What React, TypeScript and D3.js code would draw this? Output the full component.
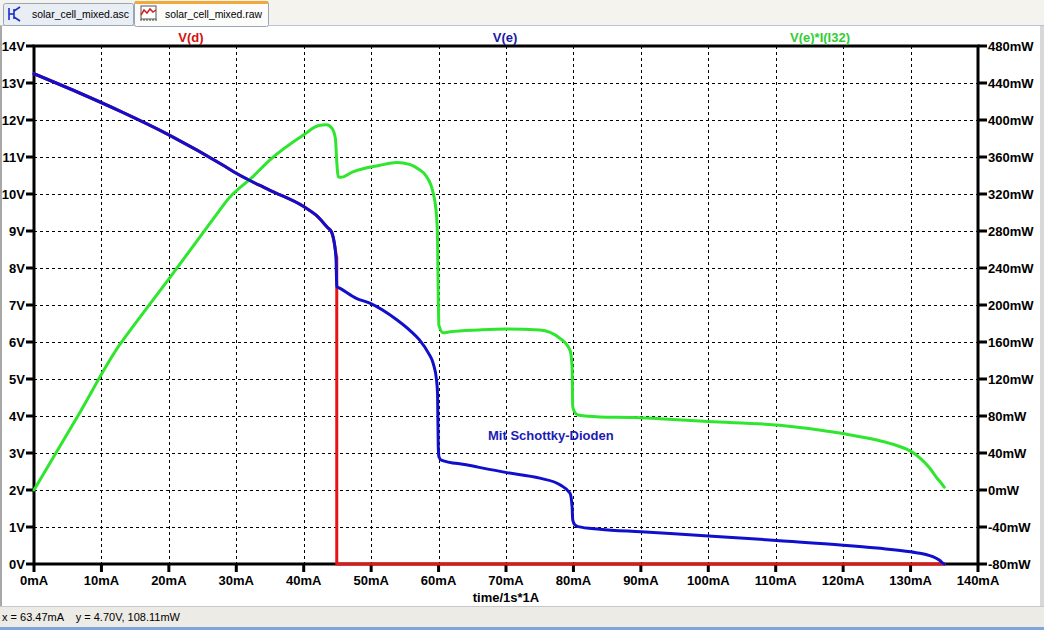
import React from "react";
import * as d3 from "d3";

// ---- data (x in mA) ----
const xTicks = [0, 10, 20, 30, 40, 50, 60, 70, 80, 90, 100, 110, 120, 130, 140];
const vTicks = [0, 1, 2, 3, 4, 5, 6, 7, 8, 9, 10, 11, 12, 13, 14];
const pTicks = [-80, -40, 0, 40, 80, 120, 160, 200, 240, 280, 320, 360, 400, 440, 480];

// V(e) [mA, V]
const vE: [number, number][] = [
  [0, 13.25], [6.5, 12.75], [13, 12.22], [20, 11.6], [28.3, 10.75], [30, 10.56], [35, 10.1], [40, 9.66],
  [42, 9.4], [43.5, 9.1], [44.1, 8.98], [44.6, 8.6], [44.8, 8.2], [44.9, 7.5], [45.4, 7.45],
  [47.8, 7.18], [49.8, 7.05], [53.8, 6.6], [55.7, 6.32], [57.2, 6.05], [58.5, 5.7], [59.2, 5.42],
  [59.7, 4.97], [59.85, 4.6], [59.95, 3.2], [60.05, 2.9], [60.4, 2.81], [64.1, 2.68], [70.1, 2.47],
  [75, 2.32], [78, 2.14], [79.5, 1.91], [79.8, 1.55], [79.9, 1.19], [80.2, 1.06], [80.7, 1.01],
  [83.9, 0.94], [90, 0.87], [100, 0.76], [110.6, 0.63], [120, 0.51], [125, 0.43], [130, 0.33],
  [133.3, 0.2], [134.3, 0.1], [134.8, 0.02], [135, 0],
];

// V(d) [mA, V]
const vD: [number, number][] = [
  [0, 13.25], [6.5, 12.75], [13, 12.22], [20, 11.6], [28.3, 10.75], [30, 10.56], [35, 10.1], [40, 9.66],
  [42, 9.4], [43.5, 9.1], [44.1, 8.98], [44.6, 8.6], [44.85, 8.3],
];
const vDdrop: [number, number][] = [
  [44.9, 8.3], [44.9, 0], [135, 0],
];

// V(e)*I(I32) [mA, mW]
const pE: [number, number][] = [
  [0, 0], [6.5, 80], [12.9, 159], [13.1, 161], [20.7, 235], [28.2, 309], [28.4, 311], [32.5, 339],
  [35, 357], [40, 384], [42.2, 394], [43.4, 395],
  [44.2, 391], [44.7, 380], [44.9, 355], [45.1, 339], [45.5, 338], [47.3, 344], [51.3, 351],
  [53.8, 354], [55.7, 352], [57, 347], [58.2, 339], [59.2, 321], [59.7, 296], [59.85, 270],
  [59.95, 210], [60.05, 178], [60.7, 170], [61.7, 171], [66, 173], [70, 174], [75, 173],
  [78, 164], [79.5, 151], [79.8, 133], [79.9, 90], [80.2, 84], [80.7, 81], [83.9, 79],
  [88.8, 78.5], [92.8, 77], [100, 74], [110.6, 70], [120, 61], [125, 54], [128, 48],
  [130, 42], [131.5, 34], [132.8, 24], [133.8, 14], [134.8, 5], [135, 3],
];

const W = 1044;
const H = 630;
const L = 34, R = 978, T = 46, B = 564;

const x = d3.scaleLinear().domain([0, 140]).range([L, R]);
const yV = d3.scaleLinear().domain([0, 14]).range([B, T]);
const yP = d3.scaleLinear().domain([-80, 480]).range([B, T]);

const lineV = d3.line<[number, number]>().x((d) => x(d[0])).y((d) => yV(d[1])).curve(d3.curveMonotoneX);
const lineVlin = d3.line<[number, number]>().x((d) => x(d[0])).y((d) => yV(d[1]));
const lineP = d3.line<[number, number]>().x((d) => x(d[0])).y((d) => yP(d[1])).curve(d3.curveMonotoneX);

const FONT = "'Liberation Sans', Arial, sans-serif";

export default function App() {
  return (
    <div style={{ position: "fixed", left: 0, top: 0, width: W, height: H }}>
      <svg width={W} height={H} style={{ display: "block" }} fontFamily={FONT}>
        {/* window background */}
        <rect x={0} y={0} width={W} height={H} fill="#ffffff" />
        {/* tab bar */}
        <rect x={0} y={0} width={W} height={26} fill="#f4f3ee" />
        <line x1={0} y1={25.5} x2={W} y2={25.5} stroke="#b9c3d3" />
        {/* inactive tab */}
        <rect x={3.5} y={3.5} width={130} height={22} fill="#e9edf4" stroke="#9aa6b8" rx={2} />
        <g stroke="#1a2fc8" strokeWidth={1.6} fill="none">
          <line x1={9} y1={8} x2={9} y2={20} />
          <line x1={9} y1={14} x2={14} y2={14} />
          <line x1={14} y1={9} x2={14} y2={19} />
          <line x1={14} y1={11} x2={20} y2={7} />
          <line x1={14} y1={17} x2={20} y2={21} />
        </g>
        <text x={32} y={18} fontSize={11.5} fill="#000" textLength={97} lengthAdjust="spacingAndGlyphs">solar_cell_mixed.asc</text>
        {/* active tab */}
        <rect x={134.5} y={1.5} width={134} height={25} fill="#fbfbf9" stroke="#9aa6b8" rx={2} />
        <rect x={135} y={1} width={133} height={3} fill="#f2a93b" />
        <g>
          <rect x={141} y={6} width={15} height={13} fill="#ffffff" stroke="#555" strokeWidth={1} />
          <path d="M141,15 L144,10 L147,13 L150,9 L153,12 L156,10" stroke="#d02020" strokeWidth={1.5} fill="none" />
          <path d="M141,19 L141,21 M144,19 L144,21 M147,19 L147,21 M150,19 L150,21 M153,19 L153,21 M156,19 L156,21" stroke="#444" strokeWidth={1} />
        </g>
        <text x={165} y={18} fontSize={11.5} fill="#000" textLength={97} lengthAdjust="spacingAndGlyphs">solar_cell_mixed.raw</text>

        {/* window side borders */}
        <rect x={0} y={26} width={2} height={580} fill="#a8a8a8" />
        <rect x={1040} y={26} width={4} height={580} fill="#d8d8d8" />

        {/* grid */}
        <g stroke="#000" strokeWidth={1} strokeDasharray="3,3">
          {xTicks.filter((t) => t > 0 && t < 140).map((t) => (
            <line key={"gx" + t} x1={Math.round(x(t)) + 0.5} y1={T} x2={Math.round(x(t)) + 0.5} y2={B} />
          ))}
          {vTicks.filter((t) => t > 0 && t < 14).map((t) => (
            <line key={"gy" + t} x1={L} y1={Math.round(yV(t)) + 0.5} x2={R} y2={Math.round(yV(t)) + 0.5} />
          ))}
        </g>

        {/* frame */}
        <rect x={L} y={T} width={R - L} height={B - T} fill="none" stroke="#000" strokeWidth={3} />

        {/* left axis */}
        <g>
          {vTicks.map((t) => (
            <g key={"lv" + t}>
              <line x1={26} y1={yV(t)} x2={L} y2={yV(t)} stroke="#000" strokeWidth={3} />
              <text x={25} y={yV(t) + 5} fontSize={13} fontWeight="bold" textAnchor="end" fill="#000">
                {t + "V"}
              </text>
            </g>
          ))}
        </g>
        {/* right axis */}
        <g>
          {pTicks.map((t) => (
            <g key={"rp" + t}>
              <line x1={R} y1={yP(t)} x2={987} y2={yP(t)} stroke="#000" strokeWidth={3} />
              <text x={988} y={yP(t) + 5} fontSize={13} fontWeight="bold" textAnchor="start" fill="#000">
                {t + "mW"}
              </text>
            </g>
          ))}
        </g>
        {/* bottom axis */}
        <g>
          {xTicks.map((t) => (
            <g key={"bx" + t}>
              <line x1={x(t)} y1={B} x2={x(t)} y2={572} stroke="#000" strokeWidth={3} />
              <text x={x(t)} y={585} fontSize={13} fontWeight="bold" textAnchor="middle" fill="#000">
                {t + "mA"}
              </text>
            </g>
          ))}
        </g>
        <text x={506} y={602} fontSize={13} fontWeight="bold" textAnchor="middle" fill="#000">time/1s*1A</text>

        {/* traces */}
        <g fill="none" strokeWidth={3} strokeLinejoin="round" strokeLinecap="round">
          <path d={lineV(vD) ?? ""} stroke="#e81414" />
          <path d={lineVlin(vDdrop) ?? ""} stroke="#e81414" />
          <path d={lineP(pE) ?? ""} stroke="#2ee62e" />
          <path d={lineV(vE) ?? ""} stroke="#1010cc" />
        </g>

        {/* trace labels */}
        <text x={191} y={42} fontSize={13} fontWeight="bold" textAnchor="middle" fill="#d41010">V(d)</text>
        <text x={505} y={42} fontSize={13} fontWeight="bold" textAnchor="middle" fill="#1a1aa8">V(e)</text>
        <text x={820} y={42} fontSize={13} fontWeight="bold" textAnchor="middle" fill="#33cc33">V(e)*I(I32)</text>

        {/* annotation */}
        <text x={488} y={440} fontSize={13} fontWeight="bold" fill="#1c1cb4">Mit Schottky-Dioden</text>

        {/* status bar */}
        <rect x={0} y={606} width={W} height={21} fill="#ecebe6" />
        <line x1={0} y1={606.5} x2={W} y2={606.5} stroke="#c8c8c8" />
        <text x={2} y={621} fontSize={11} fill="#000" style={{ whiteSpace: "pre" }}>x = 63.47mA    y = 4.70V, 108.11mW</text>
        <rect x={0} y={627} width={W} height={3} fill="#7fa6dc" />
      </svg>
    </div>
  );
}
